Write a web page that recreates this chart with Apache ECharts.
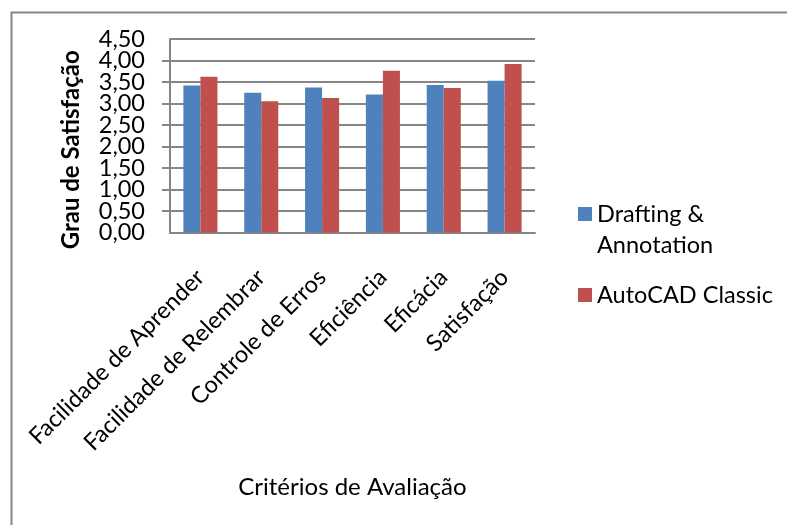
<!DOCTYPE html>
<html>
<head>
<meta charset="utf-8">
<style>
html,body{margin:0;padding:0;background:#fff;}
#c{width:787px;height:525px;}
</style>
<script src="https://cdn.jsdelivr.net/npm/echarts@6/dist/echarts.min.js"></script>
</head>
<body>
<div id="c"></div>
<script>
const categories = ['Facilidade de Aprender','Facilidade de Relembrar','Controle de Erros','Eficiência','Eficácia','Satisfação'];
const seriesNames = ['Drafting &\nAnnotation','AutoCAD Classic'];
const draftingValues = [3.42, 3.25, 3.37, 3.21, 3.43, 3.53];
const autocadValues = [3.62, 3.05, 3.13, 3.76, 3.36, 3.92];
const yTicks = [0, 0.5, 1, 1.5, 2, 2.5, 3, 3.5, 4, 4.5];

const FONT = 'Lato';
const FS = 23.5;
const fmt = v => v.toFixed(2).replace('.', ',');
const yMin = yTicks[0], yMax = yTicks[yTicks.length - 1];
const chart = echarts.init(document.getElementById('c'), null, {renderer:'canvas'});
chart.setOption({
  animation:false,
  textStyle:{fontFamily:FONT},
  graphic:[{
    type:'rect', left:9, top:10, z:-1, silent:true,
    shape:{x:0,y:0,width:800,height:530},
    style:{fill:'none', stroke:'#868686', lineWidth:2}
  }],
  grid:{left:170, right:252, top:39, bottom:292.5},
  legend:[{
    orient:'vertical', left:578, top:167.5, padding:0, itemWidth:14, itemHeight:14,
    icon:'rect', formatter:n => ' \n' + n,
    textStyle:{fontFamily:FONT, fontSize:FS, color:'#000', lineHeight:31},
    data:[seriesNames[0]]
  },{
    orient:'vertical', left:578, top:279.5, padding:0, itemWidth:14, itemHeight:14,
    icon:'rect',
    textStyle:{fontFamily:FONT, fontSize:FS, color:'#000', lineHeight:31},
    data:[seriesNames[1]]
  }],
  xAxis:{
    type:'category', data:categories,
    name:'Critérios de Avaliação', nameLocation:'middle', nameGap:243,
    nameTextStyle:{fontFamily:FONT, fontSize:24, color:'#000'},
    axisLine:{lineStyle:{color:'#868686', width:2}},
    axisTick:{show:false},
    axisLabel:{rotate:45, fontSize:FS, color:'#000', margin:41, interval:0}
  },
  yAxis:[{
    type:'value', min:yMin, max:yMax, interval:0.5, position:'left',
    name:'Grau de Satisfação', nameLocation:'middle', nameGap:87, nameRotate:90,
    nameTextStyle:{fontFamily:FONT, fontSize:24, color:'#000', fontWeight:'bold', padding:[0,28,0,0]},
    axisLine:{show:true, lineStyle:{color:'#868686', width:2}},
    axisTick:{show:true, length:8, lineStyle:{color:'#868686', width:2}},
    splitLine:{lineStyle:{color:'#868686', width:2}},
    axisLabel:{margin:25, fontSize:FS, color:'#000', showMinLabel:false, showMaxLabel:false,
      formatter:fmt}
  },{
    type:'value', min:yMin, max:yMax, interval:0.5, position:'left', offset:0,
    axisLine:{show:false}, axisTick:{show:false}, splitLine:{show:false},
    axisLabel:{margin:25, fontSize:FS, color:'#000', showMinLabel:true, showMaxLabel:true,
      formatter:v => (v === yMin || v === yMax) ? fmt(v) : ''}
  }],
  series:[
    {name:seriesNames[0], type:'bar', data:draftingValues, barGap:'0%', barCategoryGap:'44%',
     itemStyle:{color:'#4f81bd'}},
    {name:seriesNames[1], type:'bar', data:autocadValues, barGap:'0%', barCategoryGap:'44%',
     itemStyle:{color:'#c0504d'}}
  ]
});
</script>
</body>
</html>
